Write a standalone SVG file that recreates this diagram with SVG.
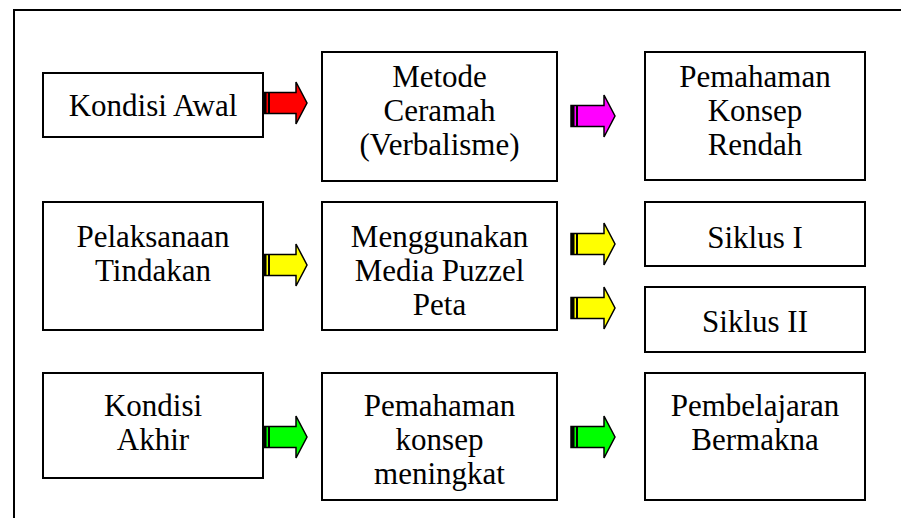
<svg xmlns="http://www.w3.org/2000/svg" xmlns:xlink="http://www.w3.org/1999/xlink" width="901" height="518" viewBox="0 0 901 518">
<style>
.box{fill:#fff;stroke:#000;stroke-width:2}
.t{font-family:'Liberation Serif','Times New Roman','DejaVu Serif',serif;font-size:31px;fill:#000;text-anchor:middle}
</style>
<defs>
<g id="arr">
<path d="M0,-10.5 H33 V-21 L44,0 L33,21 V10.5 H0 Z" stroke="#000" stroke-width="1.5" stroke-linejoin="miter"/>
<rect x="0" y="-10.5" width="3.5" height="21" fill="#000"/>
<rect x="5" y="-10.5" width="2" height="21" fill="#000"/>
</g>
</defs>
<rect x="0" y="0" width="901" height="518" fill="#fff"/>
<rect x="14" y="10" width="900" height="520" fill="none" stroke="#000" stroke-width="2"/>

<g id="n1"><rect class="box" x="43" y="73" width="220" height="64"/><text class="t" x="153" y="116">Kondisi Awal</text></g>
<g id="n2"><rect class="box" x="322" y="52" width="235" height="129"/><text class="t" x="439.5" y="87">Metode</text><text class="t" x="439.5" y="121">Ceramah</text><text class="t" x="439.5" y="155">(Verbalisme)</text></g>
<g id="n3"><rect class="box" x="645" y="52" width="220" height="128"/><text class="t" x="755" y="87">Pemahaman</text><text class="t" x="755" y="121">Konsep</text><text class="t" x="755" y="155">Rendah</text></g>

<g id="n4"><rect class="box" x="43" y="202" width="220" height="128"/><text class="t" x="153" y="247">Pelaksanaan</text><text class="t" x="153" y="281">Tindakan</text></g>
<g id="n5"><rect class="box" x="322" y="202" width="235" height="128"/><text class="t" x="439.5" y="247">Menggunakan</text><text class="t" x="439.5" y="281">Media Puzzel</text><text class="t" x="439.5" y="315">Peta</text></g>
<g id="n6"><rect class="box" x="645" y="202" width="220" height="64"/><text class="t" x="755" y="248">Siklus I</text></g>
<g id="n7"><rect class="box" x="645" y="287" width="220" height="65"/><text class="t" x="755" y="332">Siklus II</text></g>

<g id="n8"><rect class="box" x="43" y="373" width="220" height="105"/><text class="t" x="153" y="416">Kondisi</text><text class="t" x="153" y="450">Akhir</text></g>
<g id="n9"><rect class="box" x="322" y="373" width="235" height="127"/><text class="t" x="439.5" y="416">Pemahaman</text><text class="t" x="439.5" y="450">konsep</text><text class="t" x="439.5" y="484">meningkat</text></g>
<g id="n10"><rect class="box" x="645" y="373" width="220" height="127"/><text class="t" x="755" y="416">Pembelajaran</text><text class="t" x="755" y="450">Bermakna</text></g>

<g id="connectors">
<use xlink:href="#arr" transform="translate(263,103)" fill="#ff0000"/>
<use xlink:href="#arr" transform="translate(571,116)" fill="#ff00ff"/>
<use xlink:href="#arr" transform="translate(263,265)" fill="#ffff00"/>
<use xlink:href="#arr" transform="translate(571,244)" fill="#ffff00"/>
<use xlink:href="#arr" transform="translate(571,308)" fill="#ffff00"/>
<use xlink:href="#arr" transform="translate(263,437)" fill="#00ff00"/>
<use xlink:href="#arr" transform="translate(571,437)" fill="#00ff00"/>
</g>
</svg>
